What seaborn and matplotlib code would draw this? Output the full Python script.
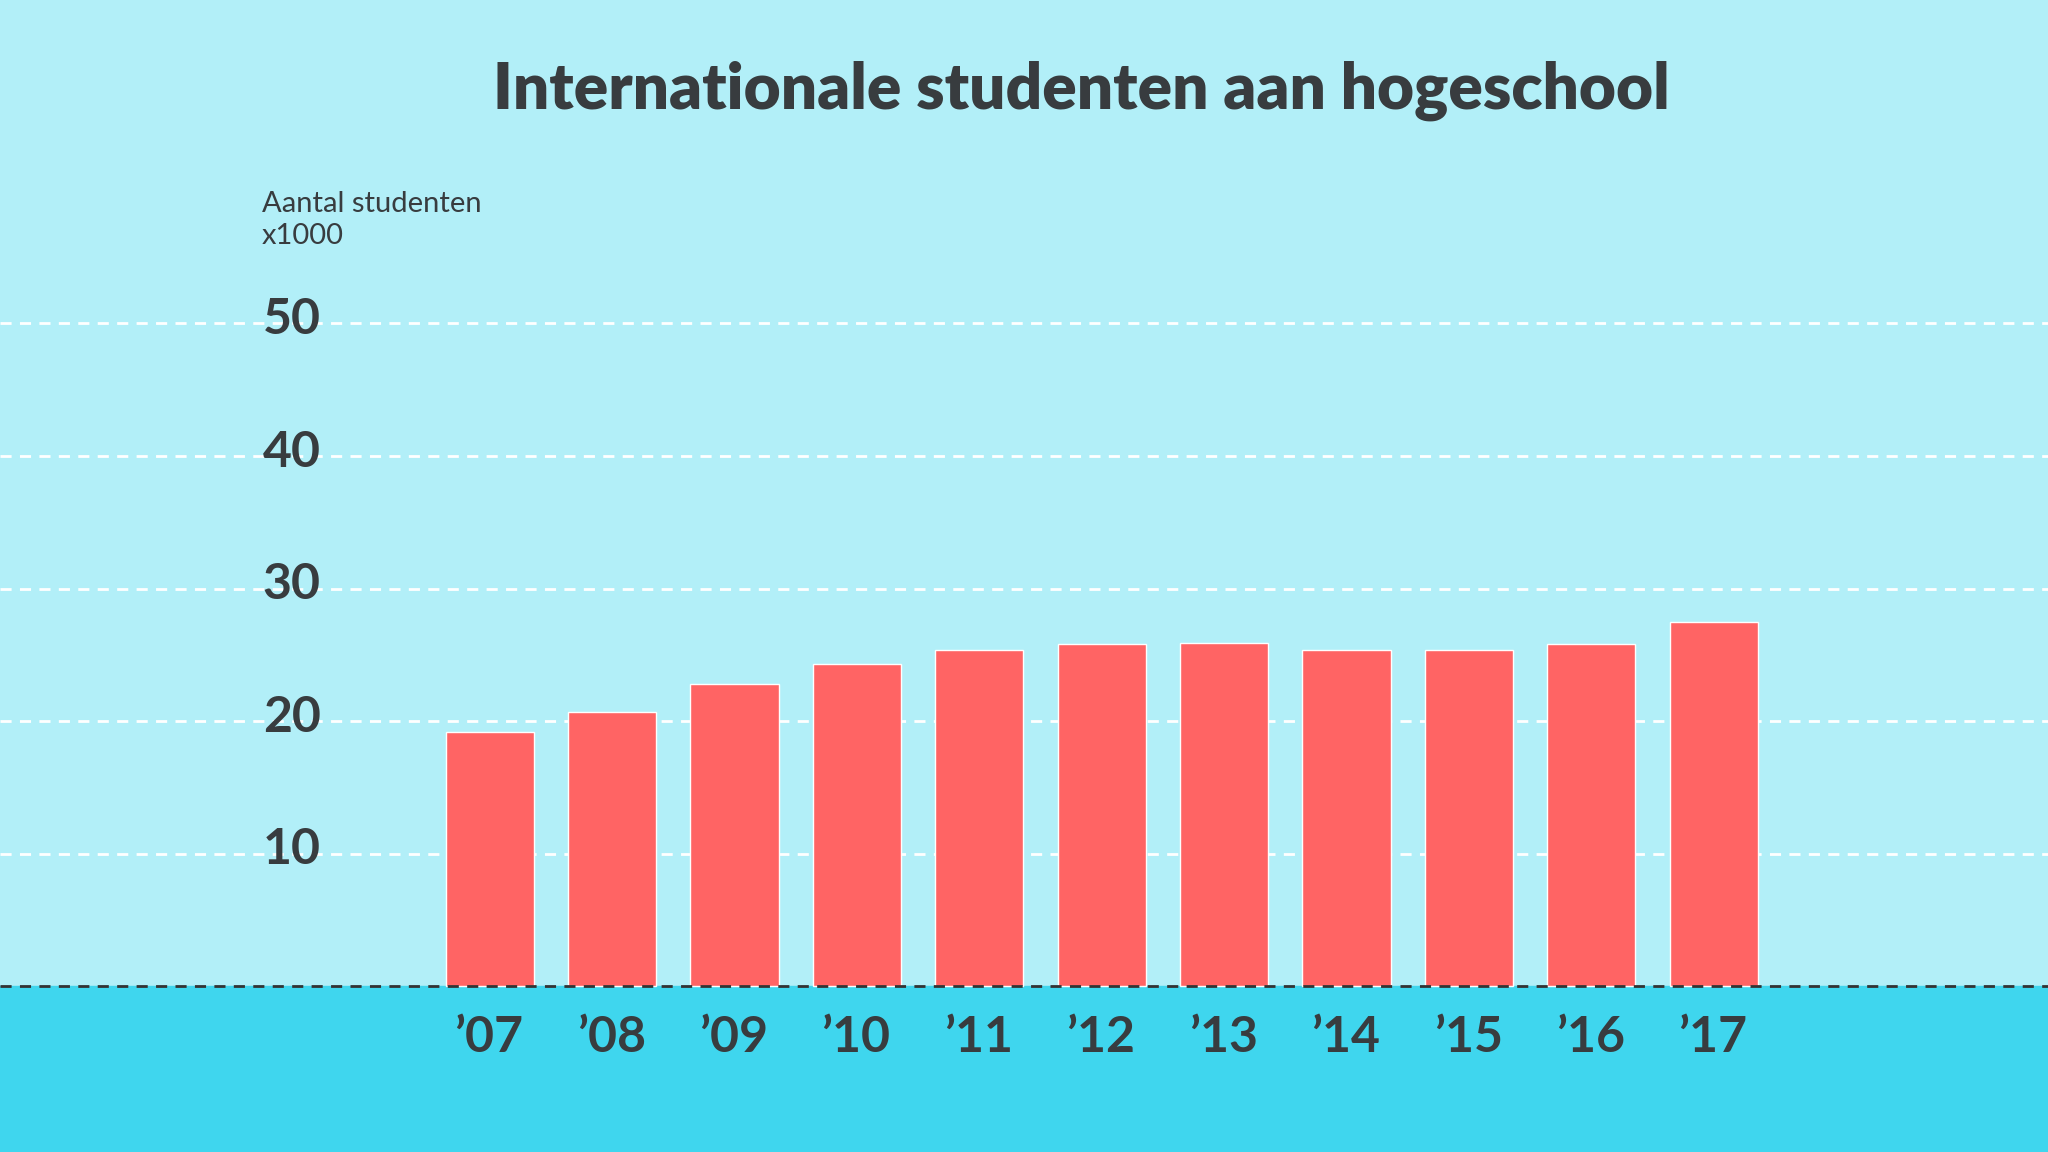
import matplotlib
matplotlib.use("Agg")
import matplotlib.pyplot as plt
import seaborn as sns
import pandas as pd

years = ["\u201907", "\u201908", "\u201909", "\u201910", "\u201911", "\u201912", "\u201913", "\u201914", "\u201915", "\u201916", "\u201917"]
values = [19.2, 20.7, 22.8, 24.3, 25.4, 25.8, 25.9, 25.4, 25.4, 25.8, 27.5]
yticks = [10, 20, 30, 40, 50]

sns.set_theme(style="white")
plt.rcParams['font.family'] = ['Lato', 'DejaVu Sans']

df = pd.DataFrame({"year": years, "value": values})
fig = plt.figure(figsize=(20.48, 11.52), dpi=100)
fig.patch.set_facecolor("#b2eff8")
ax = fig.add_axes([0, 0, 1, 1])
ax.set_facecolor("#b2eff8")
dark = "#383c3f"

ax.axhspan(-12.5, 0, color="#3fd6ee", zorder=0)
for t in yticks:
    ax.axhline(t, color="white", lw=2, ls=(0, (4, 3)), zorder=1)
sns.barplot(data=df, x="year", y="value", color="#ff6464", saturation=1, width=0.72, ax=ax, zorder=2)
ax.axhline(0, color="#333333", lw=2, ls=(0, (4, 3)), zorder=3)
ax.set_xlim(-4.0, 12.73)
ax.set_ylim(-12.5, 74.4)
ax.set_xticks([]); ax.set_yticks([])
ax.set_xlabel(""); ax.set_ylabel("")
for s in ax.spines.values():
    s.set_visible(False)

for t in yticks:
    ax.text(-1.38, t + 0.3, str(t), ha="right", va="center", fontsize=36, fontweight="bold", color=dark)
for i, y in enumerate(years):
    ax.text(i, -3.9, y, ha="center", va="center", fontsize=36, fontweight="bold", color=dark)

fig.text(0.128, 0.809, "Aantal studenten\nx1000", ha="left", va="center", fontsize=21, color=dark, linespacing=1.3)
fig.text(0.528, 0.921, "Internationale studenten aan hogeschool", ha="center", va="center",
         fontsize=46, fontweight="heavy", color=dark)

fig.savefig("out.png", dpi=100, facecolor=fig.get_facecolor())
